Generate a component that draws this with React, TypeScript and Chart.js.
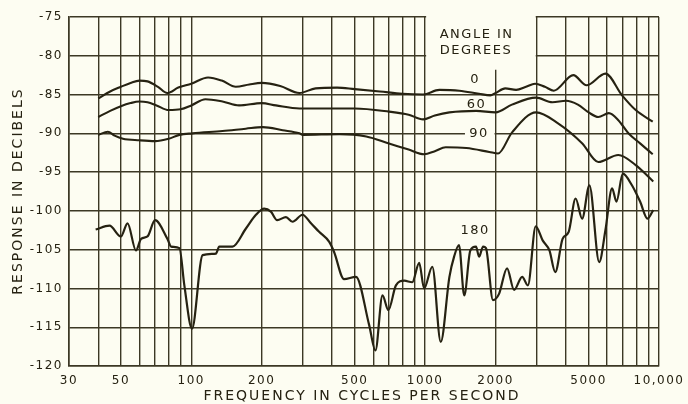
import React, { useEffect, useRef } from "react";
import { Chart, registerables } from "chart.js";

Chart.register(...registerables);

const BG = "#fdfdf2";
const INK = "#262212";
const GRID = "#3c3825";
const FONT = '"DejaVu Sans", sans-serif';

// Axis definitions
const X_MIN = 30;
const X_MAX = 10000;
const X_GRID = [30, 40, 50, 60, 70, 80, 90, 100, 200, 300, 400, 500, 600, 700, 800, 900, 1000, 2000, 3000, 4000, 5000, 6000, 7000, 8000, 9000, 10000];
const X_LABEL_VALUES = [30, 50, 100, 200, 500, 1000, 2000, 5000, 10000];
const X_LABEL_TEXT = ["30", "50", "100", "200", "500", "1000", "2000", "5000", "10,000"];
const Y_MIN = -120;
const Y_MAX = -75;
const Y_STEP = 5;

// 0 degrees
const freq0 = [40, 45, 50, 55, 60, 65, 72, 79, 88, 100, 118, 135, 155, 177, 200, 240, 290, 340, 420, 500, 640, 800, 980, 1150, 1400, 1700, 1900, 2000, 2200, 2450, 2700, 2950, 3250, 3550, 4300, 4900, 5900, 6950, 7950, 9400];
const db0 = [-85.5, -84.6, -84.0, -83.5, -83.2, -83.3, -84.0, -84.8, -84.1, -83.6, -82.8, -83.2, -84.0, -83.7, -83.5, -83.9, -84.8, -84.2, -84.1, -84.3, -84.6, -84.9, -85.0, -84.4, -84.5, -84.9, -85.1, -84.8, -84.2, -84.4, -84.0, -83.6, -84.0, -84.5, -82.5, -83.8, -82.3, -85.1, -87.0, -88.5];

// 60 degrees
const freq60 = [40, 45, 50, 55, 60, 65, 71, 80, 90, 100, 115, 136, 160, 200, 230, 290, 400, 500, 700, 850, 980, 1100, 1270, 1650, 2000, 2350, 2980, 3500, 4000, 4500, 5000, 5500, 6100, 6700, 7400, 8300, 9400];
const db60 = [-87.9, -87.1, -86.5, -86.1, -85.9, -86.0, -86.4, -87.0, -86.9, -86.4, -85.6, -85.9, -86.4, -86.1, -86.4, -86.8, -86.8, -86.8, -87.2, -87.6, -88.2, -87.7, -87.3, -87.1, -87.3, -86.3, -85.4, -86.0, -85.8, -86.3, -87.3, -87.9, -87.4, -88.3, -90.0, -91.3, -92.7];

// 90 degrees
const freq90 = [40, 44, 47, 51, 60, 70, 80, 89, 101, 136, 171, 202, 246, 290, 300, 430, 560, 700, 850, 990, 1100, 1225, 1500, 1880, 2050, 2350, 2980, 3700, 4700, 5500, 6700, 7950, 9450];
const db90 = [-90.2, -89.8, -90.3, -90.7, -90.9, -91.0, -90.7, -90.2, -90.0, -89.7, -89.4, -89.2, -89.6, -90.0, -90.2, -90.1, -90.4, -91.3, -92.1, -92.7, -92.3, -91.8, -91.9, -92.4, -92.6, -89.9, -87.3, -88.7, -91.3, -93.7, -92.8, -94.1, -96.2];

// 180 degrees
const freq180 = [39, 44.7, 50, 53.4, 58, 61, 65, 70, 79, 82, 89, 93.4, 100.7, 111.8, 127.5, 131.7, 150, 171, 189, 205, 219, 233, 254, 271, 299, 325, 352, 389, 408, 450, 506, 576, 613, 657, 696, 750, 814, 881, 943, 990, 1073, 1166, 1270, 1330, 1395, 1470, 1560, 1650, 1700, 1770, 1820, 1950, 2070, 2240, 2400, 2600, 2750, 2970, 3180, 3400, 3600, 3870, 4110, 4400, 4690, 5040, 5550, 5900, 6300, 6580, 7000, 7660, 8300, 8930, 9450];
const db180 = [-102.4, -101.9, -103.3, -101.6, -105.1, -103.6, -103.3, -101.2, -103.6, -104.6, -104.8, -109.6, -115.2, -105.7, -105.5, -104.6, -104.6, -102.3, -100.5, -99.7, -100.1, -101.2, -100.8, -101.4, -100.5, -101.6, -102.7, -104.0, -105.3, -108.8, -108.5, -114.7, -118.0, -110.9, -112.8, -109.6, -109.0, -109.2, -106.7, -110.0, -107.2, -116.9, -108.5, -105.9, -104.4, -110.9, -105.1, -104.6, -105.9, -104.6, -104.8, -111.5, -110.7, -107.4, -110.2, -108.5, -109.6, -102.0, -103.8, -105.1, -107.9, -103.6, -102.7, -98.4, -101.0, -96.7, -106.6, -102.5, -97.1, -98.8, -95.2, -96.7, -98.8, -101.0, -99.9];

const SERIES_NAMES = ["0", "60", "90", "180"];
const SERIES_FREQ = [freq0, freq60, freq90, freq180];
const SERIES_DB = [db0, db60, db90, db180];

// Text annotations, anchored in data space (frequency, dB)
const NOTE_TEXT = ["ANGLE IN", "DEGREES", "0", "60", "90", "180"];
const NOTE_FREQ = [1660, 1650, 1636, 1660, 1700, 1636];
const NOTE_DB = [-77.3, -79.4, -83.1, -86.35, -90.0, -102.6];

const zip = (xs: number[], ys: number[]) => xs.map((x, i) => ({ x, y: ys[i] }));

const decorPlugin = {
  id: "decor",
  beforeDraw(chart: any) {
    const { ctx } = chart;
    ctx.save();
    ctx.fillStyle = BG;
    ctx.fillRect(0, 0, chart.width, chart.height);
    ctx.restore();
    ctx.letterSpacing = "1.5px";
  },
  beforeDatasetsDraw(chart: any) {
    const { ctx } = chart;
    const x = chart.scales.x;
    const y = chart.scales.y;
    ctx.save();
    ctx.fillStyle = BG;
    // legend box in upper region (hides grid)
    const bx0 = x.getPixelForValue(1000) + 1;
    const bx1 = x.getPixelForValue(3000) - 1;
    const by0 = y.getPixelForValue(-75) - 2;
    const by1 = y.getPixelForValue(-81.8);
    ctx.fillRect(bx0, by0, bx1 - bx0, by1 - by0);
    // gap in -90 gridline for label
    const gx0 = x.getPixelForValue(1480);
    const gx1 = x.getPixelForValue(2000) - 1;
    const gy = y.getPixelForValue(-90);
    ctx.fillRect(gx0, gy - 3, gx1 - gx0, 6);
    ctx.restore();
  },
  afterDraw(chart: any) {
    const { ctx } = chart;
    const x = chart.scales.x;
    const y = chart.scales.y;
    ctx.save();
    ctx.fillStyle = INK;
    ctx.textAlign = "center";
    ctx.textBaseline = "middle";
    ctx.font = `13px ${FONT}`;
    ctx.letterSpacing = "1.5px";
    NOTE_TEXT.forEach((t, i) => {
      ctx.fillText(t, x.getPixelForValue(NOTE_FREQ[i]), y.getPixelForValue(NOTE_DB[i]));
    });
    // axis titles
    ctx.font = `14px ${FONT}`;
    ctx.letterSpacing = "2px";
    ctx.fillText("FREQUENCY IN CYCLES PER SECOND", 362, 396);
    ctx.translate(18, 191);
    ctx.rotate(-Math.PI / 2);
    ctx.fillText("RESPONSE IN DECIBELS", 0, 0);
    ctx.restore();
    ctx.letterSpacing = "0px";
  },
};

export default function App() {
  const ref = useRef<HTMLCanvasElement | null>(null);

  useEffect(() => {
    if (!ref.current) return;
    const chart = new Chart(ref.current, {
      type: "line",
      data: {
        datasets: SERIES_NAMES.map((name, i) => ({
          label: name,
          data: zip(SERIES_FREQ[i], SERIES_DB[i]),
          borderColor: INK,
          borderWidth: i === 3 ? 2.2 : 2.1,
          pointRadius: 0,
          fill: false,
          cubicInterpolationMode: "monotone" as const,
        })),
      },
      options: {
        animation: false,
        responsive: true,
        maintainAspectRatio: false,
        layout: { padding: { top: 17, right: 27, left: 0, bottom: 0 } },
        plugins: { legend: { display: false }, tooltip: { enabled: false } },
        scales: {
          x: {
            type: "logarithmic",
            min: X_MIN,
            max: X_MAX,
            afterBuildTicks: (s: any) => {
              s.ticks = X_GRID.map((v) => ({ value: v }));
            },
            afterFit: (s: any) => {
              s.height = 38;
            },
            ticks: {
              autoSkip: false,
              maxRotation: 0,
              minRotation: 0,
              padding: 8,
              color: INK,
              font: { family: FONT, size: 12 },
              callback: (v: any) => {
                const idx = X_LABEL_VALUES.indexOf(Number(v));
                return idx >= 0 ? X_LABEL_TEXT[idx] : "";
              },
            },
            grid: { color: GRID, lineWidth: 1.4, drawTicks: false },
            border: { display: true, color: GRID, width: 1.6 },
          },
          y: {
            type: "linear",
            min: Y_MIN,
            max: Y_MAX,
            afterFit: (s: any) => {
              s.width = 69;
            },
            ticks: {
              stepSize: Y_STEP,
              padding: 6,
              color: INK,
              font: { family: FONT, size: 12 },
              callback: (v: any) => `${v}`,
            },
            grid: { color: GRID, lineWidth: 1.4, drawTicks: false },
            border: { display: true, color: GRID, width: 1.6 },
          },
        },
      },
      plugins: [decorPlugin],
    });
    return () => chart.destroy();
  }, []);

  return (
    <div style={{ position: "fixed", left: 0, top: 0, width: 688, height: 404, background: BG }}>
      <canvas ref={ref} />
    </div>
  );
}
